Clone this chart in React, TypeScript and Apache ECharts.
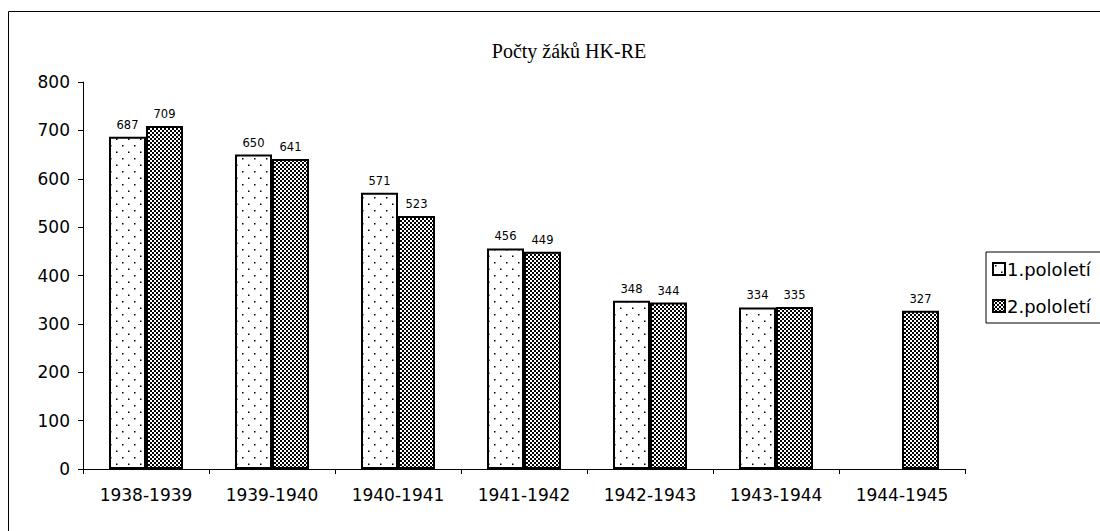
import React, { useEffect, useRef } from "react";
import * as echarts from "echarts";

const categories = ["1938-1939", "1939-1940", "1940-1941", "1941-1942", "1942-1943", "1943-1944", "1944-1945"];
const firstHalf: (number | null)[] = [687, 650, 571, 456, 348, 334, null];
const secondHalf: (number | null)[] = [709, 641, 523, 449, 344, 335, 327];
const seriesNames = ["1.pololetí", "2.pololetí"];
const yTicks = { min: 0, max: 800, interval: 100 };

const SANS = "DejaVu Sans, Verdana, sans-serif";

function dotsPattern(): string {
  const c = document.createElement("canvas");
  c.width = 12;
  c.height = 13;
  const g = c.getContext("2d")!;
  g.fillStyle = "#fff";
  g.fillRect(0, 0, 12, 13);
  g.fillStyle = "#000";
  g.fillRect(2, 2, 1.5, 1.5);
  g.fillRect(8, 8.5, 1.5, 1.5);
  return c.toDataURL();
}

function checkPattern(): string {
  const c = document.createElement("canvas");
  c.width = 4;
  c.height = 4;
  const g = c.getContext("2d")!;
  g.fillStyle = "#fff";
  g.fillRect(0, 0, 4, 4);
  g.fillStyle = "#000";
  g.fillRect(0, 0, 2, 2);
  g.fillRect(2, 2, 2, 2);
  return c.toDataURL();
}

export default function App() {
  const ref = useRef<HTMLDivElement>(null);
  useEffect(() => {
    if (!ref.current) return;
    const chart = echarts.init(ref.current, null, { renderer: "svg" });
    const p1: any = { image: dotsPattern(), repeat: "repeat" };
    const p2: any = { image: checkPattern(), repeat: "repeat" };
    const labelStyle = {
      show: true,
      position: "top" as const,
      distance: 6,
      fontFamily: SANS,
      fontSize: 11.5,
      color: "#000",
    };
    chart.setOption({
      animation: false,
      backgroundColor: "#fff",
      title: {
        text: "Počty žáků HK-RE",
        left: 564,
        top: 36,
        textAlign: "center",
        textStyle: {
          fontFamily: "Liberation Serif, Times New Roman, serif",
          fontWeight: "normal",
          fontSize: 20,
          color: "#000",
        },
      },
      graphic: [
        {
          type: "rect",
          shape: { x: 8.5, y: 11.5, width: 1200, height: 600 },
          style: { fill: "none", stroke: "#000", lineWidth: 1 },
          silent: true,
          z: -1,
        },
      ],
      legend: {
        orient: "vertical",
        left: 986,
        top: 252,
        padding: [8, 40, 8, 6],
        itemWidth: 12,
        itemHeight: 12,
        itemGap: 19,
        borderColor: "#000",
        borderWidth: 1,
        borderRadius: 0,
        icon: "rect",
        textStyle: {
          fontFamily: SANS,
          fontSize: 18,
          color: "#000",
          padding: [0, 0, 0, -3],
        },
        data: seriesNames,
      },
      grid: { left: 83, right: 135, top: 82, bottom: 62, containLabel: false },
      xAxis: {
        type: "category",
        data: categories,
        boundaryGap: true,
        axisLine: { lineStyle: { color: "#000", width: 1 } },
        axisTick: { show: true, length: 5, lineStyle: { color: "#000" } },
        axisLabel: {
          fontFamily: SANS,
          fontSize: 17,
          color: "#000",
          margin: 17,
        },
      },
      yAxis: {
        type: "value",
        min: yTicks.min,
        max: yTicks.max,
        interval: yTicks.interval,
        splitLine: { show: false },
        axisLine: { show: true, lineStyle: { color: "#000", width: 1 } },
        axisTick: { show: true, length: 5, lineStyle: { color: "#000" } },
        axisLabel: {
          fontFamily: SANS,
          fontSize: 17,
          color: "#000",
          margin: 13,
        },
      },
      series: [
        {
          name: seriesNames[0],
          type: "bar",
          data: firstHalf,
          barWidth: 37,
          barGap: "0%",
          itemStyle: { color: p1, borderColor: "#000", borderWidth: 2 },
          label: labelStyle,
        },
        {
          name: seriesNames[1],
          type: "bar",
          data: secondHalf,
          barWidth: 37,
          barGap: "0%",
          itemStyle: { color: p2, borderColor: "#000", borderWidth: 2 },
          label: labelStyle,
        },
      ],
    });
    return () => chart.dispose();
  }, []);
  return (
    <div
      ref={ref}
      style={{ position: "fixed", left: 0, top: 0, width: 1100, height: 531 }}
    />
  );
}
